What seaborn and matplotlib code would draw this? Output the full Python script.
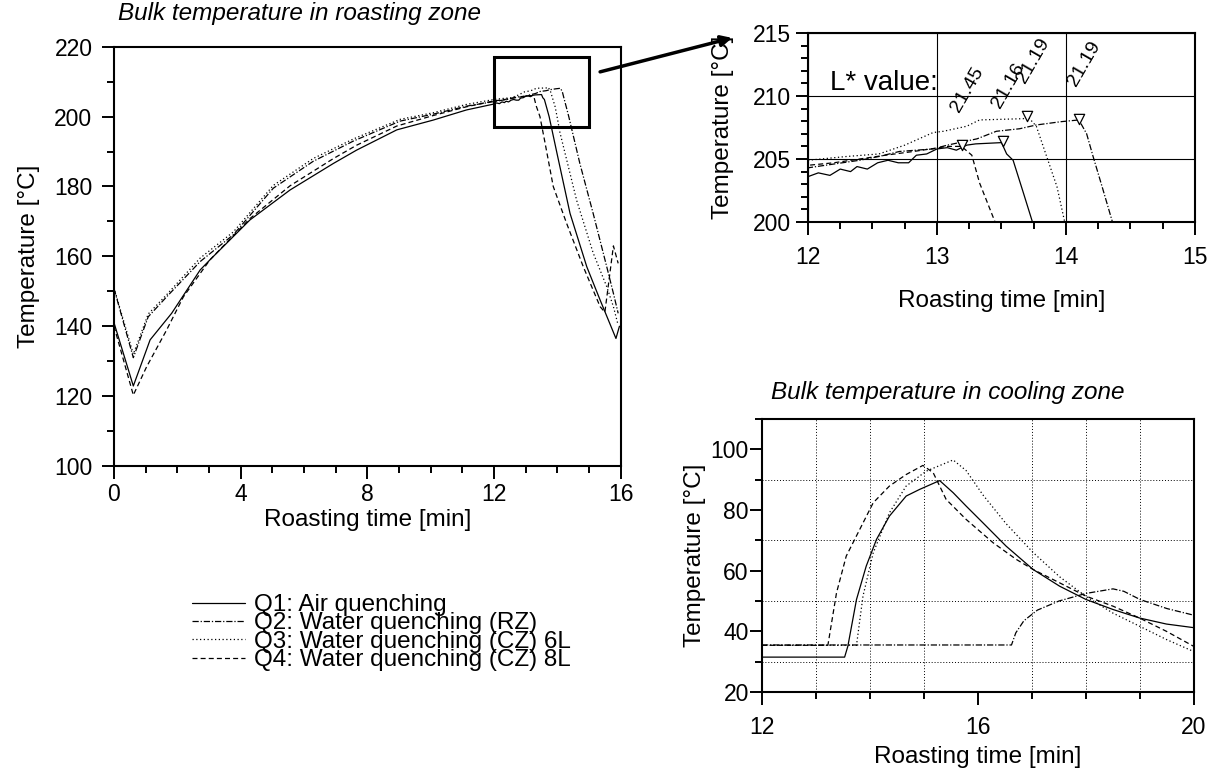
import pandas as pd
import matplotlib.pyplot as plt
import seaborn as sns
from matplotlib.ticker import MultipleLocator
from matplotlib.patches import Rectangle

# --- roasting zone: bulk temperature [°C] vs roasting time [min] ---
q1_x = [0.0, 0.61, 1.14, 1.82, 2.72, 3.03, 4.29, 5.56, 6.93, 7.66, 8.93, 10.08, 11.13,
        12.0, 12.08, 12.17, 12.25, 12.33, 12.38, 12.46, 12.54, 12.62, 12.70, 12.78, 12.84,
        12.92, 13.0, 13.08, 13.15, 13.23, 13.30, 13.50, 13.54, 13.59, 13.67, 13.74, 14.0,
        14.40, 14.93, 15.35, 15.85, 15.96]
q1_y = [141.0, 122.9, 136.1, 143.7, 156.1, 159.0, 170.4, 179.0, 186.6, 190.4, 196.2, 199.0, 201.9,
        203.6, 203.9, 203.7, 204.2, 204.0, 204.4, 204.2, 204.7, 204.9, 204.7, 204.7, 205.3,
        205.4, 205.8, 205.9, 205.7, 206.1, 206.2, 206.3, 205.4, 204.9, 202.3, 200.0, 189.0,
        172.3, 157.0, 147.5, 136.5, 140.0]

q2_x = [0.0, 0.61, 1.08, 1.66, 2.72, 3.77, 5.03, 6.29, 7.56, 9.03, 10.08, 11.14,
        12.0, 12.2, 12.4, 12.55, 12.71, 12.97, 13.08, 13.31, 13.46, 13.64, 13.77, 13.96,
        14.10, 14.16, 14.21, 14.28, 14.36, 14.71, 15.13, 15.56, 15.77, 15.92]
q2_y = [150.8, 131.0, 142.7, 148.4, 158.5, 166.2, 179.5, 187.2, 193.0, 198.7, 200.7, 203.0,
        204.3, 204.6, 204.9, 205.2, 205.6, 205.8, 206.1, 206.6, 207.2, 207.4, 207.7, 207.96,
        208.1, 207.0, 205.2, 202.8, 200.0, 186.6, 172.3, 157.0, 149.4, 143.7]

q3_x = [0.0, 0.61, 1.08, 1.66, 2.72, 3.77, 5.03, 6.29, 7.56, 9.03, 10.08, 11.14,
        12.0, 12.3, 12.55, 12.75, 12.97, 13.05, 13.23, 13.33, 13.67, 13.70, 13.77, 13.85,
        13.93, 13.99, 14.08, 14.61, 15.13, 15.56, 15.77, 15.90]
q3_y = [151.0, 132.0, 143.5, 149.0, 159.5, 167.0, 180.3, 188.0, 193.6, 199.2, 201.1, 203.5,
        204.9, 205.2, 205.4, 206.1, 207.1, 207.2, 207.6, 208.1, 208.2, 208.4, 207.6, 205.2,
        202.8, 200.0, 195.5, 176.0, 161.0, 151.3, 145.6, 141.0]

q4_x = [0.0, 0.61, 1.03, 1.66, 2.19, 2.72, 3.03, 4.29, 5.56, 6.93, 7.66, 8.93, 10.08, 11.13,
        12.0, 12.2, 12.4, 12.6, 12.82, 12.95, 13.08, 13.19, 13.27, 13.33, 13.45, 13.60,
        13.87, 14.29, 14.82, 15.35, 15.50, 15.77, 15.92]
q4_y = [140.0, 120.3, 128.4, 138.9, 148.4, 155.1, 159.0, 170.8, 180.2, 188.0, 191.8, 197.3, 200.3, 202.8,
        204.5, 204.7, 205.0, 205.3, 205.6, 205.8, 206.0, 206.0, 205.3, 203.1, 200.0, 193.0,
        180.0, 169.5, 157.0, 145.6, 144.0, 163.0, 158.0]

# end of roasting (triangles) and measured L* values
peak_x = [13.51, 14.10, 13.70, 13.19]
peak_y = [206.4, 208.2, 208.45, 206.1]
l_values = ['21.16', '21.19', '21.19', '21.45']

# --- cooling zone ---
c1_x = [12.0, 13.53, 13.59, 13.75, 13.93, 14.12, 14.36, 14.67, 14.92, 15.29, 15.54, 15.78,
        16.09, 16.52, 17.02, 17.51, 18.0, 18.5, 18.99, 19.49, 20.0]
c1_y = [31.5, 31.5, 35.1, 50.5, 61.5, 70.3, 78.0, 84.6, 86.8, 89.7, 85.7, 81.3,
        75.8, 68.1, 60.4, 54.9, 50.5, 47.2, 44.4, 42.4, 41.2]

c2_x = [12.0, 16.62, 16.70, 16.85, 17.10, 17.50, 18.0, 18.5, 18.7, 19.0, 19.5, 20.0]
c2_y = [35.5, 35.5, 39.5, 43.5, 47.0, 50.0, 52.5, 54.0, 53.2, 50.5, 47.5, 45.3]

c3_x = [12.0, 13.75, 13.87, 14.06, 14.36, 14.67, 15.04, 15.54, 15.78, 16.09, 16.52, 17.02,
        17.51, 18.0, 18.5, 18.99, 19.49, 20.0]
c3_y = [35.4, 35.4, 51.6, 65.9, 79.1, 87.9, 92.8, 96.5, 93.0, 85.0, 75.5, 66.0,
        58.0, 51.5, 46.0, 41.7, 37.3, 33.3]

c4_x = [12.0, 13.22, 13.38, 13.56, 13.81, 14.06, 14.36, 14.67, 14.98, 15.17, 15.41, 15.78,
        16.28, 16.71, 17.02, 17.51, 18.0, 18.5, 18.99, 19.49, 20.0]
c4_y = [35.4, 35.4, 52.7, 64.8, 73.6, 82.4, 87.9, 91.7, 94.7, 92.3, 83.5, 76.9,
        69.2, 63.7, 60.4, 56.0, 51.6, 48.3, 44.4, 40.0, 35.0]

names = ['Q1: Air quenching', 'Q2: Water quenching (RZ)',
         'Q3: Water quenching (CZ) 6L', 'Q4: Water quenching (CZ) 8L']
roast = [(q1_x, q1_y), (q2_x, q2_y), (q3_x, q3_y), (q4_x, q4_y)]
cool = [(c1_x, c1_y), (c2_x, c2_y), (c3_x, c3_y), (c4_x, c4_y)]
styles = ['-', (0, (5, 1.5, 1, 1.5)), (0, (1, 2)), (0, (4, 2.5))]

sns.set_theme(style='ticks')
plt.rcParams['font.family'] = ['Liberation Sans', 'DejaVu Sans']
plt.rcParams.update({
    'axes.linewidth': 1.5, 'axes.edgecolor': 'black',
    'xtick.major.size': 9, 'ytick.major.size': 9,
    'xtick.minor.size': 5, 'ytick.minor.size': 5,
    'xtick.major.width': 1.4, 'ytick.major.width': 1.4,
    'xtick.minor.width': 1.4, 'ytick.minor.width': 1.4,
    'xtick.labelsize': 16.5, 'ytick.labelsize': 16.5,
    'axes.labelsize': 17.5, 'xtick.color': 'black', 'ytick.color': 'black',
    'text.color': 'black', 'axes.labelcolor': 'black',
})

W, H = 1219, 776


def box(l, t, r, b):
    return [l / W, 1 - b / H, (r - l) / W, (b - t) / H]


fig = plt.figure(figsize=(W / 100, H / 100), dpi=100)
ax = fig.add_axes(box(114, 46.7, 620.7, 466))
axz = fig.add_axes(box(808, 33, 1195, 222))
axc = fig.add_axes(box(762, 419, 1194, 692))

for (xs, ys), ls, nm in zip(roast, styles, names):
    sns.lineplot(x=xs, y=ys, ax=ax, color='black', lw=0.9, linestyle=ls,
                 label=nm, estimator=None, sort=False)
    sns.lineplot(x=xs, y=ys, ax=axz, color='black', lw=0.9, linestyle=ls,
                 estimator=None, sort=False)
for (xs, ys), ls in zip(cool, styles):
    sns.lineplot(x=xs, y=ys, ax=axc, color='black', lw=0.9, linestyle=ls,
                 estimator=None, sort=False)

# --- main panel ---
ax.set_xlim(0, 16)
ax.set_ylim(100, 220)
ax.xaxis.set_major_locator(MultipleLocator(4))
ax.xaxis.set_minor_locator(MultipleLocator(1))
ax.yaxis.set_major_locator(MultipleLocator(20))
ax.yaxis.set_minor_locator(MultipleLocator(10))
ax.tick_params(axis='y', which='major', pad=6.5)
ax.set_xlabel('Roasting time [min]', labelpad=2)
ax.set_ylabel('Temperature [°C]', labelpad=10)
ax.add_patch(Rectangle((12, 197), 3, 20, fill=False, lw=2.2, ec='black'))
ax.text(0.008, 1.063, 'Bulk temperature in roasting zone', transform=ax.transAxes,
        fontsize=17.5, style='italic', va='baseline', ha='left')
ax.annotate('', xy=(-0.196, 0.974), xycoords=axz.transAxes,
            xytext=(15.35, 212.8), textcoords='data',
            arrowprops=dict(arrowstyle='-|>', lw=2.5, color='black', mutation_scale=16,
                            shrinkA=0, shrinkB=0))

# --- zoom panel ---
axz.set_xlim(12, 15)
axz.set_ylim(200, 215)
axz.xaxis.set_major_locator(MultipleLocator(1))
axz.xaxis.set_minor_locator(MultipleLocator(0.25))
axz.yaxis.set_major_locator(MultipleLocator(5))
axz.yaxis.set_minor_locator(MultipleLocator(1))
axz.tick_params(axis='x', which='major', pad=8.5)
axz.grid(True, which='major', color='black', lw=0.8, ls='-')
axz.set_xlabel('Roasting time [min]', labelpad=15)
axz.set_ylabel('Temperature [°C]', labelpad=13)
sns.scatterplot(x=peak_x, y=peak_y, ax=axz, marker='v', s=55, facecolor='white',
                edgecolor='black', linewidth=0.9, zorder=5, legend=False)
for px, py, lv in zip(peak_x, peak_y, l_values):
    axz.annotate(lv, xy=(px, py), xytext=(-2, 23), textcoords='offset points',
                 rotation=60, rotation_mode='anchor', ha='left', va='baseline',
                 fontsize=14)
axz.text(12.17, 210.45, 'L* value:', fontsize=20, va='baseline', ha='left')

# --- cooling panel ---
axc.set_xlim(12, 20)
axc.set_ylim(20, 110)
axc.set_xticks([12, 16, 20])
axc.xaxis.set_minor_locator(MultipleLocator(1))
axc.set_yticks([20, 40, 60, 80, 100])
axc.yaxis.set_minor_locator(MultipleLocator(10))
axc.tick_params(axis='x', which='major', pad=8.5)
axc.tick_params(axis='y', which='major', pad=0.5)
axc.grid(True, which='minor', color='black', lw=0.7, ls=(0, (1, 2)))
axc.set_xlabel('Roasting time [min]', labelpad=5)
axc.set_ylabel('Temperature [°C]', labelpad=3)
axc.text(0.02, 1.075, 'Bulk temperature in cooling zone', transform=axc.transAxes,
         fontsize=17.5, style='italic', va='baseline', ha='left')

for a in (ax, axz, axc):
    if a.get_legend() is not None:
        a.get_legend().remove()
    for s in a.spines.values():
        s.set_visible(True)
        s.set_linewidth(1.5)
    a.set_axisbelow(True)

handles = ax.get_lines()[:4]
fig.legend(handles, names, loc='upper left', bbox_to_anchor=(192 / W, 1 - 594 / H),
           frameon=False, fontsize=17.5, handlelength=2.2, handletextpad=0.35,
           labelspacing=-0.15, borderpad=0, borderaxespad=0)

fig.savefig('out.png', dpi=100)
